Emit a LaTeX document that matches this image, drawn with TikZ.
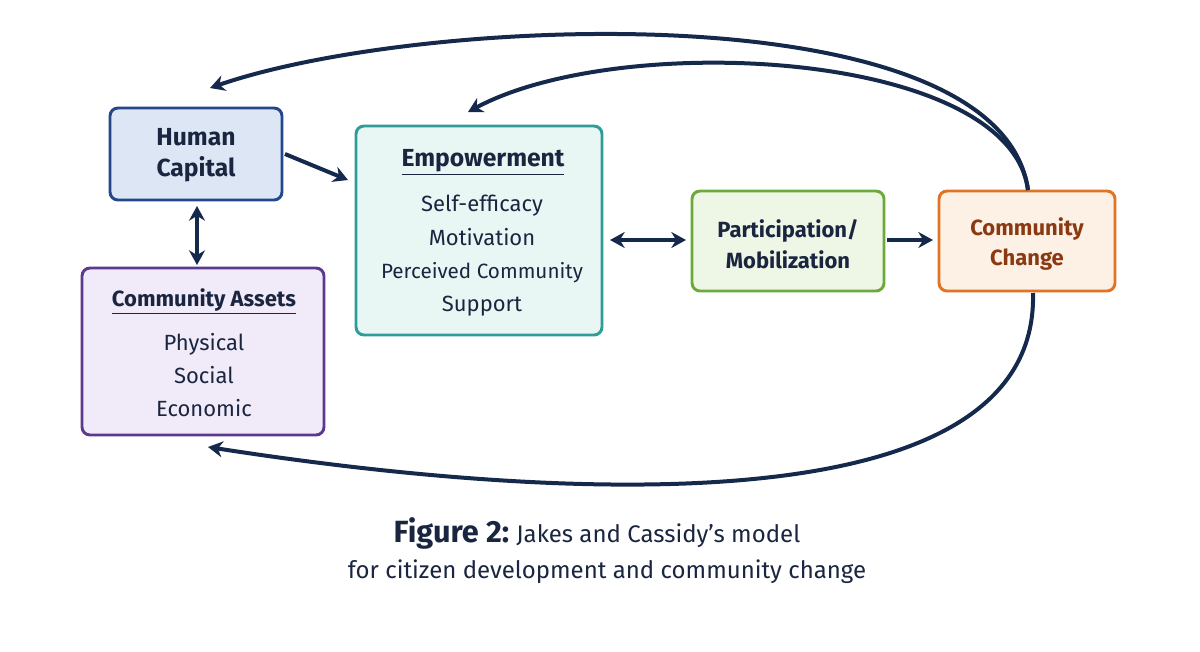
\documentclass[tikz,border=0pt]{standalone}
\usepackage{fontspec}
\setmainfont{Fira Sans}
\usetikzlibrary{arrows.meta}
\definecolor{navy}{HTML}{14294B}
\definecolor{hcF}{HTML}{DDE6F5}\definecolor{hcD}{HTML}{24478A}
\definecolor{caF}{HTML}{F1EAF8}\definecolor{caD}{HTML}{5B3A8E}
\definecolor{emF}{HTML}{E9F7F4}\definecolor{emD}{HTML}{2E9C98}
\definecolor{paF}{HTML}{EEF6E6}\definecolor{paD}{HTML}{6DAA3C}
\definecolor{ccF}{HTML}{FDF0E5}\definecolor{ccD}{HTML}{E07424}\definecolor{ccT}{HTML}{8A3A12}
\definecolor{txt}{HTML}{1A2540}
\begin{document}
\begin{tikzpicture}[x=0.75pt,y=-0.75pt,
  box/.style={draw,line width=2.2pt,rounded corners=6pt,anchor=north west,inner sep=0pt},
  arr/.style={draw=navy,line width=3pt,-{Stealth[length=11pt,width=12pt]}},
  darr/.style={draw=navy,line width=3pt,{Stealth[length=11pt,width=12pt]}-{Stealth[length=11pt,width=12pt]}},
  ttl/.style={font=\bfseries\fontsize{18.5}{23}\selectfont,text=txt,align=center},
  bod/.style={font=\fontsize{16.5}{25}\selectfont,text=txt,align=center}]
\useasboundingbox (0,0) rectangle (1200,651);
\fill[white] (0,0) rectangle (1200,651);
% boxes
\draw[box,draw=hcD,fill=hcF] (110,108) rectangle (282,200);
\node[ttl] (hc) at (196,155) {Human\\Capital};
\node[inner sep=0pt,minimum width=172*0.75pt,minimum height=92*0.75pt] (hcb) at (196,154) {};
\draw[box,draw=caD,fill=caF] (82,268) rectangle (324,435);
\node[inner sep=0pt,minimum width=242*0.75pt,minimum height=167*0.75pt] (cab) at (203,351.5) {};
\node[ttl,font=\bfseries\fontsize{16.5}{19}\selectfont] (cat) at (204,301) {\underline{Community Assets}};
\node[bod] (cabod) at (204,375) {Physical\\Social\\Economic};
\draw[box,draw=emD,fill=emF] (356,126) rectangle (602,335);
\node[inner sep=0pt,minimum width=246*0.75pt,minimum height=209*0.75pt] (emb) at (479,230.5) {};
\node[ttl] (emt) at (483,162) {\underline{Empowerment}};
\node[bod] (embod) at (482,256) {Self-efficacy\\Motivation\\{\fontsize{15.5}{25}\selectfont Perceived Community}\\Support};
\draw[box,draw=paD,fill=paF] (692,191) rectangle (884,291);
\node[inner sep=0pt,minimum width=192*0.75pt,minimum height=100*0.75pt] (pab) at (788,241) {};
\node[ttl,font=\bfseries\fontsize{16.5}{23}\selectfont] (pat) at (788,244) {Participation/\\Mobilization};
\draw[box,draw=ccD,fill=ccF] (939,191) rectangle (1115,291);
\node[inner sep=0pt,minimum width=176*0.75pt,minimum height=100*0.75pt] (ccb) at (1027,241) {};
\node[ttl,text=ccT,font=\bfseries\fontsize{16.5}{23}\selectfont] (cct) at (1027,244) {Community\\Change};
% arrows
\coordinate (hcs) at (197,206);
\coordinate (cat2) at (197,265);
\draw[arr] (285,154) -- (348,180);
\draw[darr] (hcs) -- (cat2);
\draw[darr] (610,240) -- (686,240);
\draw[arr] (887,240) -- (933,240);
\coordinate (cctop) at (1028,190);
\draw[arr] (cctop) .. controls (1010,50) and (620,30) .. (468,112);
\draw[arr] (cctop) .. controls (1000,-10) and (420,15) .. (210,88);
\draw[arr] (1033,293) .. controls (1040,560) and (420,480) .. (208,447);
% caption
\node[text=txt,anchor=center] (cap1) at (597,533) {{\bfseries\fontsize{23}{26}\selectfont Figure 2:}\ \ {\fontsize{18}{22}\selectfont Jakes and Cassidy’s model}};
\node[text=txt,font=\fontsize{18}{22}\selectfont] (cap2) at (607,572) {for citizen development and community change};
\end{tikzpicture}
\end{document}
